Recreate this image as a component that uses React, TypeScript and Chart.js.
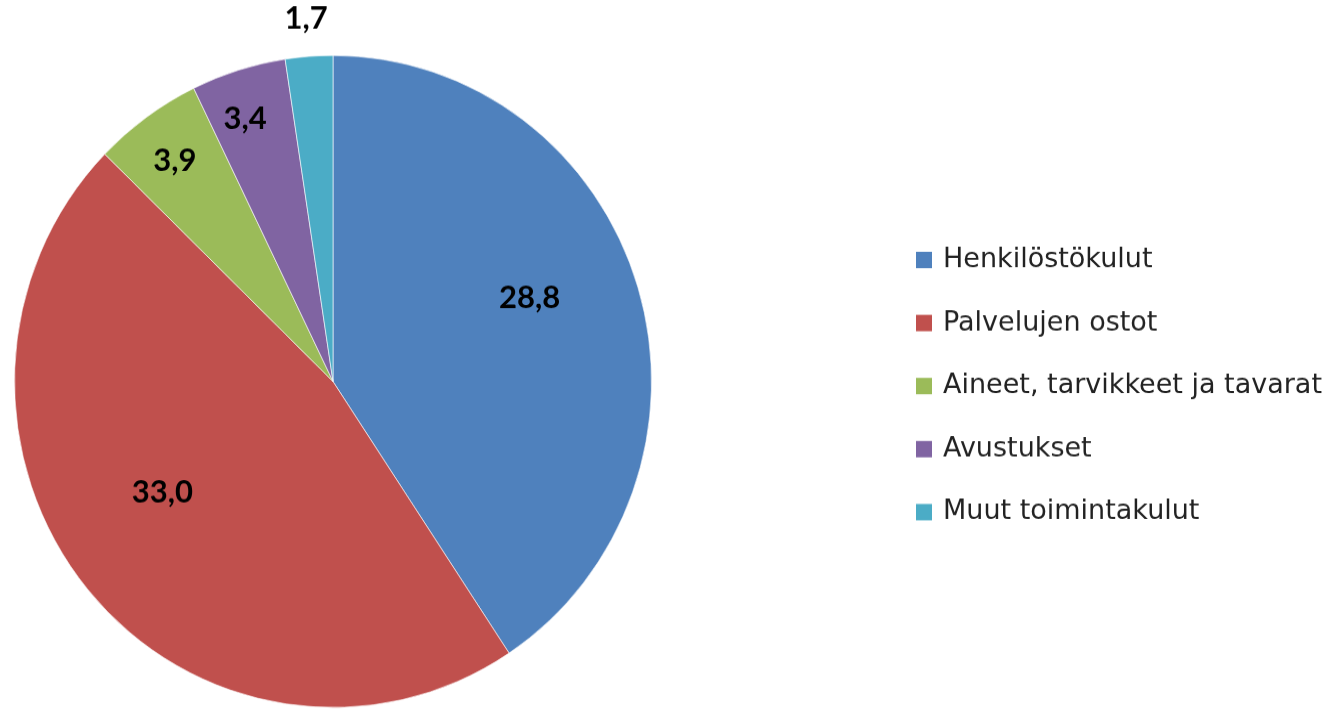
import React, { useEffect, useRef } from "react";
import { Chart, registerables } from "chart.js";

Chart.register(...registerables);

const categories = [
  "Henkilöstökulut",
  "Palvelujen ostot",
  "Aineet, tarvikkeet ja tavarat",
  "Avustukset",
  "Muut toimintakulut",
];
const values = [28.8, 33.0, 3.9, 3.4, 1.7];
const valueLabels = ["28,8", "33,0", "3,9", "3,4", "1,7"];
const colors = ["#4F81BD", "#C0504D", "#9BBB59", "#8064A2", "#4BACC6"];

// label placement (radial factor of radius, angle shift in degrees)
const labelRadial = [0.668, 0.635, 0.84, 0.853, 1.117];
const labelShift = [-5.7, 7.2, -0.4, -1.6, 0];

const STRETCH_Y = 1.0235;

const valueLabelPlugin = {
  id: "valueLabels",
  afterDatasetsDraw(chart: any) {
    const ctx = chart.ctx;
    const meta = chart.getDatasetMeta(0);
    ctx.save();
    ctx.font = "bold 31px Lato, 'Open Sans', sans-serif";
    ctx.fillStyle = "#000";
    ctx.textAlign = "center";
    ctx.textBaseline = "middle";
    meta.data.forEach((arc: any, i: number) => {
      const p = arc.getProps(["x", "y", "startAngle", "endAngle", "outerRadius"], true);
      const mid = (p.startAngle + p.endAngle) / 2 + (labelShift[i] * Math.PI) / 180;
      const r = p.outerRadius * labelRadial[i];
      ctx.fillText(valueLabels[i], p.x + Math.cos(mid) * r, p.y + Math.sin(mid) * r);
    });
    ctx.restore();
  },
};

const legendPlugin = {
  id: "customLegend",
  afterDraw(chart: any) {
    const ctx = chart.ctx;
    ctx.save();
    ctx.font = "27px 'DejaVu Sans', sans-serif";
    ctx.textBaseline = "middle";
    ctx.textAlign = "left";
    chart.data.labels.forEach((lab: string, i: number) => {
      const y = 254 + i * 61.6;
      ctx.fillStyle = chart.data.datasets[0].backgroundColor[i];
      ctx.fillRect(916, y - 8, 16, 16);
      ctx.fillStyle = "#222";
      ctx.fillText(lab, 943, y);
    });
    ctx.restore();
  },
};

export default function App() {
  const ref = useRef<HTMLCanvasElement>(null);
  useEffect(() => {
    if (!ref.current) return;
    const chart = new Chart(ref.current, {
      type: "pie",
      data: {
        labels: categories,
        datasets: [
          {
            data: values,
            backgroundColor: colors,
            borderColor: "rgba(255,255,255,0.6)",
            borderWidth: 1,
          },
        ],
      },
      options: {
        responsive: false,
        animation: false,
        layout: { padding: { left: 14, right: 680, top: 53.7, bottom: 19.3 } },
        plugins: {
          legend: { display: false },
          tooltip: { enabled: false },
        },
      },
      plugins: [valueLabelPlugin, legendPlugin],
    });
    return () => chart.destroy();
  }, []);
  return (
    <div
      style={{
        position: "fixed",
        left: 0,
        top: 0,
        width: 1332,
        height: 711,
        background: "#fff",
        overflow: "hidden",
      }}
    >
      <canvas
        ref={ref}
        width={1332}
        height={711}
        style={{ display: "block", transformOrigin: "0 0", transform: `scaleY(${STRETCH_Y})` }}
      />
    </div>
  );
}
